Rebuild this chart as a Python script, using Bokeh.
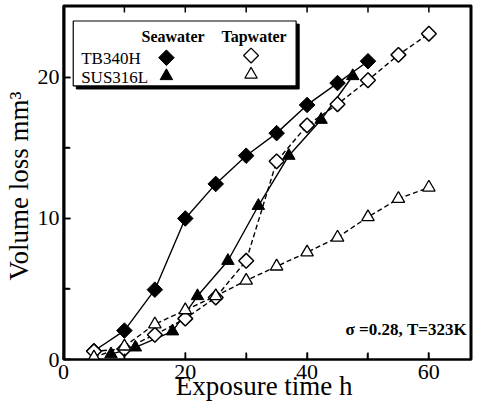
import numpy as np
from bokeh.plotting import figure
from bokeh.models import Range1d, LinearAxis, FixedTicker, Label
from bokeh.embed import file_html
from bokeh.resources import INLINE

# ---- data ----
sea_tb_x = [5, 10, 15, 20, 25, 30, 35, 40, 45, 50]
sea_tb_y = [0.6, 2.05, 4.95, 10.0, 12.45, 14.45, 16.05, 18.05, 19.6, 21.15]
sea_sus_x = [7.8, 11.8, 17.9, 22, 27, 32, 37, 42.3, 47.5]
sea_sus_y = [0.38, 0.86, 2.0, 4.5, 7.0, 10.9, 14.45, 17.0, 20.1]
tap_tb_x = [5, 10, 15, 20, 25, 30, 35, 40, 45, 50, 55, 60]
tap_tb_y = [0.58, 0.75, 1.75, 2.9, 4.4, 7.0, 14.05, 16.6, 18.1, 19.8, 21.6, 23.1]
tap_sus_x = [5, 10, 15, 20, 25, 30, 35, 40, 45, 50, 55, 60]
tap_sus_y = [0.15, 0.93, 2.5, 3.5, 4.5, 5.6, 6.6, 7.6, 8.65, 10.1, 11.4, 12.2]

x_major = [0, 20, 40, 60]
x_minor = [10, 30, 50]
y_major = [0, 10, 20]
y_minor = [5, 15]
top_ticks = [10, 20, 30, 40, 50, 60]

X_MAX, Y_MAX = 67.0, 25.1
SERIF = "Liberation Serif"

p = figure(width=473, height=403, output_backend="svg", toolbar_location=None,
           x_range=Range1d(0, X_MAX), y_range=Range1d(0, Y_MAX),
           x_axis_type=None, y_axis_type=None,
           min_border_left=0, min_border_right=2, min_border_top=5, min_border_bottom=0)
p.grid.visible = False
p.outline_line_color = "black"
p.outline_line_width = 2
p.background_fill_color = "white"
p.border_fill_color = "white"

def style_axis(ax, label_size="22px"):
    ax.axis_line_width = 2
    ax.axis_line_color = "black"
    ax.major_tick_in = 7
    ax.major_tick_out = 0
    ax.minor_tick_in = 6
    ax.minor_tick_out = 0
    ax.major_tick_line_width = 1.5
    ax.minor_tick_line_width = 1.5
    ax.major_tick_line_color = "black"
    ax.minor_tick_line_color = "black"
    ax.major_label_text_font = SERIF
    ax.major_label_text_font_size = label_size
    ax.major_label_text_color = "black"
    ax.axis_label_text_font = SERIF
    ax.axis_label_text_font_style = "normal"
    ax.axis_label_text_font_size = "27px"
    ax.axis_label_text_color = "black"

xb = LinearAxis(ticker=FixedTicker(ticks=x_major, minor_ticks=x_minor),
                axis_label="Exposure time  h")
style_axis(xb)
xb.major_label_standoff = 5
xb.axis_label_standoff = -11
p.add_layout(xb, "below")

yl = LinearAxis(ticker=FixedTicker(ticks=y_major, minor_ticks=y_minor),
                axis_label="Volume loss  mm³")
style_axis(yl)
yl.major_label_standoff = 4
yl.axis_label_standoff = 1
p.add_layout(yl, "left")

# frame edges and inward ticks drawn as glyphs (clipped to the frame)
tx = 7 / 6.17   # tick length in x data units (~7 px)
ty = 7 / 13.9   # tick length in y data units (~7 px)
p.segment(x0=[0, X_MAX, 0], x1=[0, X_MAX, X_MAX], y0=[0, 0, Y_MAX], y1=[Y_MAX, Y_MAX, Y_MAX],
          line_color="black", line_width=4)
p.segment(x0=top_ticks, x1=top_ticks, y0=[Y_MAX] * len(top_ticks),
          y1=[Y_MAX - ty] * len(top_ticks), line_color="black", line_width=1.5)
bt = x_major + x_minor
p.segment(x0=bt, x1=bt, y0=[0] * len(bt), y1=[ty] * len(bt),
          line_color="black", line_width=1.5)
lt = y_major + y_minor
p.segment(x0=[0] * len(lt), x1=[tx] * len(lt), y0=lt, y1=lt,
          line_color="black", line_width=1.5)

# ---- series ----
p.line(sea_tb_x, sea_tb_y, line_color="black", line_width=1.4)
p.line(sea_sus_x, sea_sus_y, line_color="black", line_width=1.4)
p.line(tap_tb_x, tap_tb_y, line_color="black", line_width=1.4, line_dash="5 3")
p.line(tap_sus_x, tap_sus_y, line_color="black", line_width=1.4, line_dash="5 3")

p.scatter(sea_tb_x, sea_tb_y, marker="square", angle=np.pi / 4, size=11,
          fill_color="black", line_color="black", line_width=1)
p.scatter(sea_sus_x, sea_sus_y, marker="triangle", size=12.5,
          fill_color="black", line_color="black", line_width=1)
p.scatter(tap_tb_x, tap_tb_y, marker="square", angle=np.pi / 4, size=10.5,
          fill_color="white", line_color="black", line_width=1.5)
p.scatter(tap_sus_x, tap_sus_y, marker="triangle", size=12.5,
          fill_color="white", line_color="black", line_width=1.3)

# ---- legend box (drawn manually) ----
lg_l, lg_r, lg_t, lg_b = 1.6, 38.2, 24.0, 19.4
p.quad(left=[lg_l + 0.5], right=[lg_r + 0.5], top=[lg_t - 0.22], bottom=[lg_b - 0.22],
       fill_color="black", line_color="black")
p.quad(left=[lg_l], right=[lg_r], top=[lg_t], bottom=[lg_b],
       fill_color="white", line_color="black", line_width=1.2)

def txt(x, y, s, size="16px", style="normal", align="left", angle=0.0):
    p.add_layout(Label(x=x, y=y, text=s, text_font=SERIF, text_font_size=size,
                       text_font_style=style, text_align=align, angle=angle,
                       text_baseline="middle", text_color="black"))

txt(18.0, 22.9, "Seawater", style="bold", align="center")
txt(31.3, 22.9, "Tapwater", style="bold", align="center")
txt(2.9, 21.35, "TB340H", size="17px")
txt(2.9, 20.0, "SUS316L", size="17px")

p.scatter([16.9], [21.4], marker="square", angle=np.pi / 4, size=11,
          fill_color="black", line_color="black")
p.scatter([16.9], [20.1], marker="triangle", size=12.5,
          fill_color="black", line_color="black")
p.scatter([30.8], [21.55], marker="square", angle=np.pi / 4, size=10.5,
          fill_color="white", line_color="black", line_width=1.3)
p.scatter([30.8], [20.2], marker="triangle", size=12.5,
          fill_color="white", line_color="black", line_width=1.2)

txt(46.3, 2.1, "σ =0.28,  T=323K", size="17px", style="bold")

open("out.html", "w").write(file_html(p, INLINE))
